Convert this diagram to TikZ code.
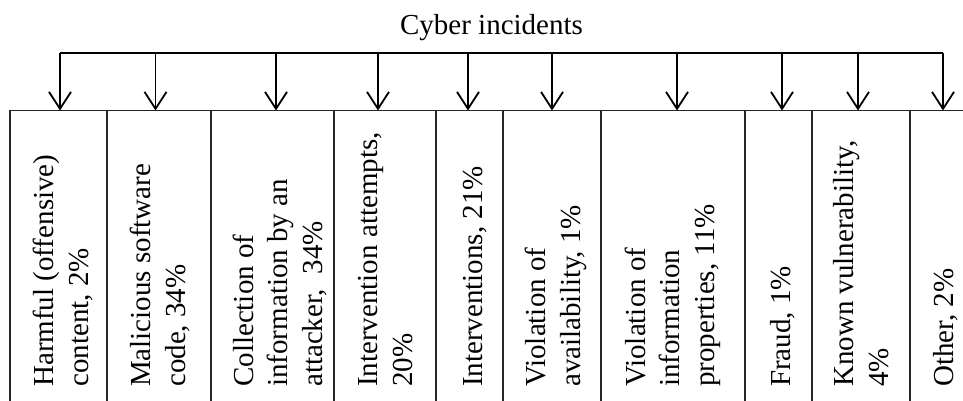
\documentclass[tikz,border=0pt]{standalone}
\usepackage{fontspec}
\setmainfont{Liberation Serif}
\usetikzlibrary{arrows.meta}
\begin{document}
\begin{tikzpicture}[x=1pt,y=-1pt,
  cell/.style={draw=black!85, line width=1.1pt},
  branch/.style={line width=1.8pt, -{Straight Barb[length=17pt,width=22pt,line width=1.8pt]}},
  busline/.style={line width=1.8pt},
  label/.style={rotate=90, anchor=base west, align=left, inner sep=0pt,
    font=\fontsize{29}{34.5}\selectfont},
  title/.style={anchor=base, inner sep=0pt, font=\fontsize{29}{34.5}\selectfont}]
\useasboundingbox (0,0) rectangle (963,401);

% heading
\node[title] (head) at (491.5,35) {Cyber incidents};

% table frame: top rule and column separators, open at the bottom and right
\coordinate (tl) at (10,110.5);
\coordinate (tr) at (963,110.5);
\draw[cell] (tl) -- (tr);
\foreach \x in {10,107,211,334,436,503,601,745,812,910}
  \draw[cell] (\x,110.5) -- (\x,401);

% distribution bus
\coordinate (busL) at (60,53);
\coordinate (busR) at (943,53);
\draw[busline] (busL) -- (busR);

% arrows into each category
\foreach \x [count=\i] in {60,155.5,276,378,468,552,677,782,858,943} {
  \coordinate (src\i) at (\x,53);
  \coordinate (dst\i) at (\x,110.5);
  \draw[branch] (src\i) -- (dst\i);
}

% category labels (anchored at the baseline of the last line, left end at the bottom)
\node[label] (c1)  at (88,387)  {Harmful (offensive)\\content, 2\%};
\node[label] (c2)  at (185,387) {Malicious software\\code, 34\%};
\node[label] (c3)  at (322,387) {Collection of\\information by an\\attacker,~ 34\%};
\node[label] (c4)  at (412,387) {Intervention attempts,\\20\%};
\node[label] (c5)  at (482,387) {Interventions, 21\%};
\node[label] (c6)  at (580,387) {Violation of\\availability, 1\%};
\node[label] (c7)  at (714,387) {Violation of\\information\\properties, 11\%};
\node[label] (c8)  at (790,387) {Fraud, 1\%};
\node[label] (c9)  at (888,387) {Known vulnerability,\\4\%};
\node[label] (c10) at (953,387) {Other, 2\%};
\end{tikzpicture}
\end{document}
